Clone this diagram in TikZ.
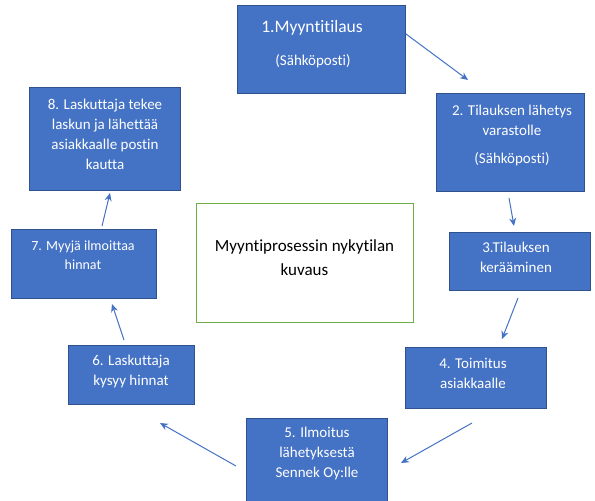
\documentclass[tikz,border=0pt]{standalone}
\usepackage{fontspec}
\setmainfont{Carlito}[Ligatures=NoCommon]
\usetikzlibrary{arrows.meta}
\definecolor{boxblue}{HTML}{4472C4}
\definecolor{boxedge}{HTML}{2F528F}
\definecolor{framegreen}{HTML}{70AD47}
\tikzset{
  stepbox/.style={draw=boxedge, line width=0.8pt, fill=boxblue, rectangle, inner sep=0pt},
  steptext/.style={text=white, align=center, inner sep=0pt, font=\fontsize{15}{20}\selectfont},
  flow/.style={draw=boxblue, line width=1pt, -{Stealth[length=8pt,width=7pt]}},
}
\begin{document}
\begin{tikzpicture}[x=1pt,y=-1pt]
\useasboundingbox (0,0) rectangle (595,501);

% step boxes
\node[stepbox, minimum width=168pt, minimum height=88pt] (b1) at (321,49) {};
\node[stepbox, minimum width=148pt, minimum height=98pt] (b2) at (510,142) {};
\node[stepbox, minimum width=141pt, minimum height=58pt] (b3) at (519.5,261) {};
\node[stepbox, minimum width=141pt, minimum height=61pt] (b4) at (475.5,377.5) {};
\node[stepbox, minimum width=141pt, minimum height=86pt] (b5) at (316.5,461) {};
\node[stepbox, minimum width=126pt, minimum height=59pt] (b6) at (131,374.5) {};
\node[stepbox, minimum width=145pt, minimum height=69pt] (b7) at (83.5,263.5) {};
\node[stepbox, minimum width=151pt, minimum height=103pt] (b8) at (104.5,138.5) {};

% centre title
\node[draw=framegreen, line width=0.8pt, fill=white, minimum width=217pt, minimum height=119pt] (c) at (304.5,262.5) {};
\node[align=center, inner sep=0pt, font=\fontsize{17}{24}\selectfont] (ct) at (304.5,258) {Myyntiprosessin nykytilan\\kuvaus};

% step texts
\node[steptext, font=\fontsize{17.5}{20}\selectfont] (t1a) at (312,28) {1.Myyntitilaus};
\node[steptext] (t1b) at (313,61) {(Sähköposti)};
\node[steptext] (t2a) at (512,120) {2. Tilauksen lähetys\\varastolle};
\node[steptext] (t2b) at (512,159) {(Sähköposti)};
\node[steptext] (t3) at (516,257) {3.Tilauksen\\kerääminen};
\node[steptext] (t4) at (473,373) {4. Toimitus\\asiakkaalle};
\node[steptext] (t5) at (317,453) {5. Ilmoitus\\lähetyksestä\\Sennek Oy:lle};
\node[steptext] (t6) at (131,371) {6. Laskuttaja\\kysyy hinnat};
\node[steptext, font=\fontsize{14}{19}\selectfont] (t7) at (83,255) {7. Myyjä ilmoittaa\\hinnat};
\node[steptext] (t8) at (105,134) {8. Laskuttaja tekee\\laskun ja lähettää\\asiakkaalle postin\\kautta};

% arrow ends
\coordinate (a1s) at (406,34);  \coordinate (a1e) at (468,80);
\coordinate (a2s) at (509,198); \coordinate (a2e) at (514,226);
\coordinate (a3s) at (518,298); \coordinate (a3e) at (502,339);
\coordinate (a4s) at (472,423); \coordinate (a4e) at (401,463);
\coordinate (a5s) at (236,466); \coordinate (a5e) at (160,423);
\coordinate (a6s) at (124,340); \coordinate (a6e) at (112,304);
\coordinate (a7s) at (102,226); \coordinate (a7e) at (110,193);

\draw[flow] (a1s) -- (a1e);
\draw[flow] (a2s) -- (a2e);
\draw[flow] (a3s) -- (a3e);
\draw[flow] (a4s) -- (a4e);
\draw[flow] (a5s) -- (a5e);
\draw[flow] (a6s) -- (a6e);
\draw[flow] (a7s) -- (a7e);
\end{tikzpicture}
\end{document}
